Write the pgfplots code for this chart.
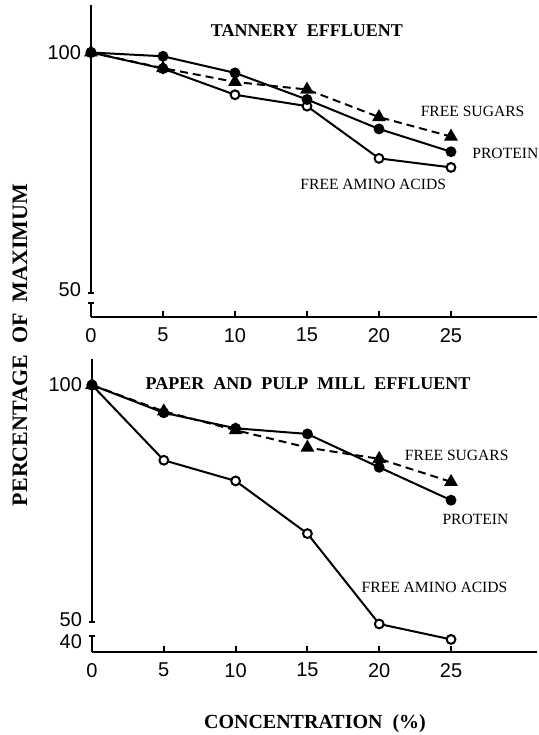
\documentclass[border=0pt]{standalone}
\usepackage{fontspec}
\setmainfont{Liberation Serif}
\setsansfont{Liberation Sans}
\usepackage{pgfplots}
\pgfplotsset{compat=1.18}

\begin{document}
\begin{tikzpicture}
\useasboundingbox (0,0) rectangle (269.5pt,367.5pt);
\tikzset{
 lab/.style={font=\fontsize{7.8}{9}\selectfont, inner sep=0pt},
 ttl/.style={font=\bfseries\fontsize{9}{11}\selectfont, inner sep=0pt},
}
\pgfplotsset{
 myax/.style={
   scale only axis, clip=false,
   axis x line*=bottom, axis y line*=left,
   x axis line style={-, line width=1.2pt},
   y axis line style={draw=none},
   xmin=0, xmax=31,
   xtick={0,5,10,15,20,25},
   xtick align=inside,
   major tick length=3pt,
   xtick style={line width=1pt, black},
   ytick style={draw=none},
   /pgf/number format/assume math mode=true,
   tick label style={font=\sffamily\fontsize{10}{12}\selectfont},
   xticklabel style={yshift=-2pt},
   yticklabel style={xshift=-1.5pt},
   every axis plot/.append style={line width=1pt, black},
 },
 prot/.style={solid, mark=*, mark size=2.2pt, mark options={solid, fill=black}},
 sug/.style={dash pattern=on 4pt off 2.5pt, mark=triangle*, mark size=3pt, mark options={solid, fill=black}},
 amino/.style={solid, mark=*, mark size=2.2pt, mark options={solid, fill=white, line width=1pt}},
}

% ---------------- Top panel: tannery effluent ----------------
\begin{axis}[myax, at={(45.5pt,209pt)}, anchor=south west,
  width=223.2pt, height=156pt, ymin=44.3, ymax=110,
  ytick={50,100}, yticklabels={50,100}]
\addplot[amino] coordinates {(0,100) (5,96.6) (10,91.1) (15,88.7) (20,77.7) (25,75.8)};
\addplot[prot] coordinates {(0,100) (5,99.2) (10,95.7) (15,90.1) (20,83.9) (25,79.1)};
\addplot[sug] coordinates {(0,100) (5,96.7) (10,93.8) (15,92.2) (20,86.4) (25,82.3)};
\node[ttl] at (axis cs:15,104.7) {TANNERY\ \ EFFLUENT};
\node[lab] at (axis cs:26.5,87.5) {FREE SUGARS};
\node[lab, anchor=west] at (axis cs:26.46,78.8) {PROTEIN};
\node[lab] at (axis cs:19.6,72.3) {FREE AMINO ACIDS};
\end{axis}

% ---------------- Bottom panel: paper and pulp mill effluent ----------------
\begin{axis}[myax, at={(46pt,41.5pt)}, anchor=south west,
  width=222.6pt, height=146.4pt,
  y coord trafo/.code={\pgfmathparse{#1<50 ? 50-(50-#1)*0.462 : #1}},
  ymin=35.3, ymax=105.5,
  ytick={40,50,100}, yticklabels={40,50,100}]
\addplot[amino] coordinates {(0,100) (5,84.0) (10,79.6) (15,68.4) (20,48.2) (25,41.1)};
\addplot[prot] coordinates {(0,100) (5,94.1) (10,90.8) (15,89.6) (20,82.5) (25,75.5)};
\addplot[sug] coordinates {(0,100) (5,94.4) (10,90.4) (15,86.7) (20,84.3) (25,79.4)};
\node[ttl] at (axis cs:15.04,100.4) {PAPER\ \ AND\ \ PULP\ \ MILL\ \ EFFLUENT};
\node[lab] at (axis cs:25.4,85.1) {FREE SUGARS};
\node[lab] at (axis cs:26.7,71.5) {PROTEIN};
\node[lab] at (axis cs:23.85,57.0) {FREE AMINO ACIDS};
\end{axis}

% broken y axes (top panel: x=45.5pt; bottom panel: x=46pt)
\draw[line width=1.2pt] (45.5pt,365pt) -- (45.5pt,221pt);
\draw[line width=1pt] (44.2pt,221pt) -- (46.8pt,221pt);
\draw[line width=1.2pt] (45.5pt,216pt) -- (45.5pt,209pt);
\draw[line width=1pt] (44.2pt,216pt) -- (46.8pt,216pt);
\draw[line width=1.2pt] (46pt,188pt) -- (46pt,56.5pt);
\draw[line width=1pt] (44.7pt,56.5pt) -- (47.3pt,56.5pt);
\draw[line width=1.2pt] (46pt,49.5pt) -- (46pt,41.5pt);
\draw[line width=1pt] (44.7pt,49.5pt) -- (47.3pt,49.5pt);

% axis titles
\node[rotate=90, font=\bfseries\fontsize{11}{13}\selectfont, inner sep=0pt] at (10pt,195pt) {PERCENTAGE\ \ OF\ \ MAXIMUM};
\node[font=\bfseries\fontsize{10}{12}\selectfont, inner sep=0pt] at (157.5pt,5.5pt) {CONCENTRATION\ \ (\%)};
\end{tikzpicture}
\end{document}
